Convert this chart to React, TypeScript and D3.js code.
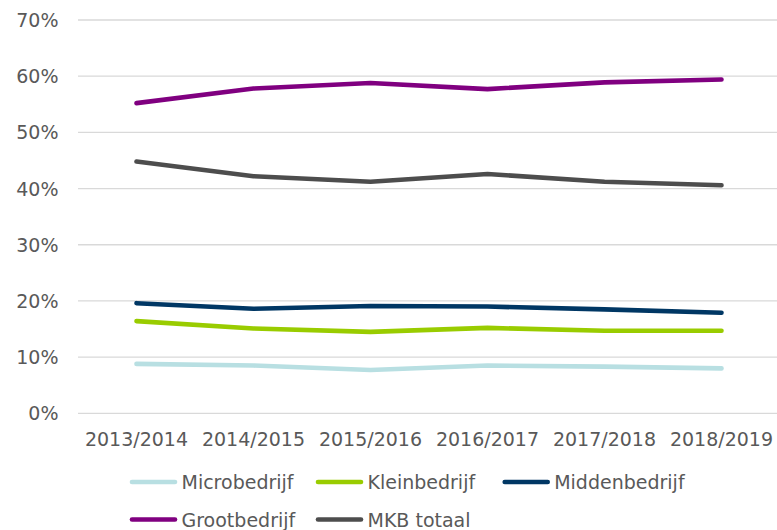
import React from "react";
import * as d3 from "d3";

const categories = ["2013/2014", "2014/2015", "2015/2016", "2016/2017", "2017/2018", "2018/2019"];
const microbedrijf = [8.8, 8.5, 7.7, 8.5, 8.3, 8.0];
const kleinbedrijf = [16.4, 15.1, 14.5, 15.2, 14.7, 14.7];
const middenbedrijf = [19.6, 18.6, 19.1, 19.0, 18.5, 17.9];
const grootbedrijf = [55.2, 57.8, 58.8, 57.7, 58.9, 59.4];
const mkbTotaal = [44.8, 42.2, 41.2, 42.6, 41.2, 40.6];
const yTicks = [0, 10, 20, 30, 40, 50, 60, 70];

const series = [
  { name: "Microbedrijf", values: microbedrijf, color: "#b8dfe2" },
  { name: "Kleinbedrijf", values: kleinbedrijf, color: "#99cc00" },
  { name: "Middenbedrijf", values: middenbedrijf, color: "#003764" },
  { name: "Grootbedrijf", values: grootbedrijf, color: "#800080" },
  { name: "MKB totaal", values: mkbTotaal, color: "#4d4d4d" },
];

const W = 777;
const H = 530;
const FONT = "'DejaVu Sans', Verdana, sans-serif";
const TEXT = "#595959";

export default function App() {
  const x = d3.scaleBand<string>().domain(categories).range([78, 780]).padding(0);
  const y = d3.scaleLinear().domain([0, 70]).range([413.3, 20]);
  const cx = (c: string) => (x(c) as number) + x.bandwidth() / 2;
  const line = d3
    .line<number>()
    .x((_, i) => cx(categories[i]))
    .y((v) => y(v));

  const legendCols = [130, 316, 502.7];
  const legendRows = [482, 519.5];

  return (
    <svg
      width={W}
      height={H}
      style={{ position: "absolute", left: 0, top: 0, background: "#fff" }}
      fontFamily={FONT}
    >
      {yTicks.map((t) => (
        <g key={t}>
          <line x1={78} x2={777} y1={y(t)} y2={y(t)} stroke="#d9d9d9" strokeWidth={1.3} />
          <text x={58.5} y={y(t)} textAnchor="end" dominantBaseline="central" fontSize={19} fill={TEXT}>
            {t}%
          </text>
        </g>
      ))}
      {categories.map((c) => (
        <text key={c} x={cx(c)} y={445.5} textAnchor="middle" fontSize={19} fill={TEXT}>
          {c}
        </text>
      ))}
      {series.map((s) => (
        <path
          key={s.name}
          d={line(s.values) || ""}
          fill="none"
          stroke={s.color}
          strokeWidth={4.6}
          strokeLinecap="round"
          strokeLinejoin="round"
        />
      ))}
      {series.map((s, i) => {
        const col = i % 3;
        const row = Math.floor(i / 3);
        const lx = legendCols[col];
        const ly = legendRows[row];
        return (
          <g key={s.name}>
            <line x1={lx + 2} x2={lx + 45} y1={ly} y2={ly} stroke={s.color} strokeWidth={4.6} strokeLinecap="round" />
            <text x={lx + 51.5} y={ly} dominantBaseline="central" fontSize={19} fill={TEXT}>
              {s.name}
            </text>
          </g>
        );
      })}
    </svg>
  );
}
